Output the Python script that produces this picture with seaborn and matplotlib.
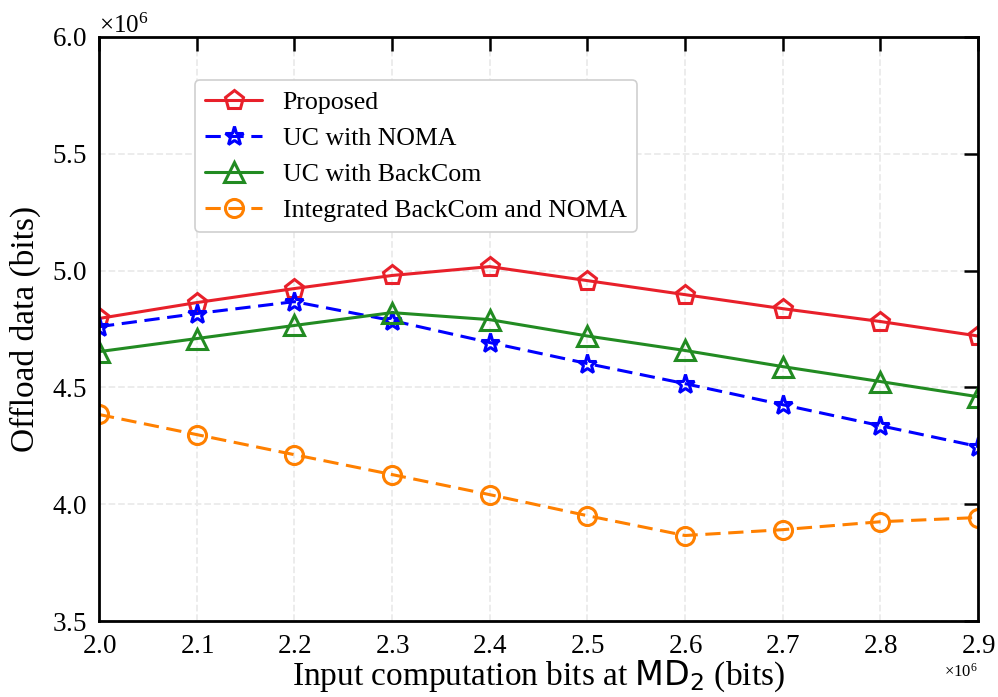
import numpy as np
import pandas as pd
import matplotlib
matplotlib.use("Agg")
import matplotlib.pyplot as plt
import seaborn as sns
from matplotlib.ticker import ScalarFormatter

x_vals = [2.0e6, 2.1e6, 2.2e6, 2.3e6, 2.4e6, 2.5e6, 2.6e6, 2.7e6, 2.8e6, 2.9e6]
proposed = [4.795e6, 4.863e6, 4.923e6, 4.979e6, 5.017e6, 4.957e6, 4.897e6, 4.837e6, 4.782e6, 4.720e6]
uc_noma = [4.760e6, 4.816e6, 4.867e6, 4.786e6, 4.692e6, 4.602e6, 4.516e6, 4.426e6, 4.336e6, 4.247e6]
uc_backcom = [4.653e6, 4.709e6, 4.765e6, 4.820e6, 4.790e6, 4.720e6, 4.658e6, 4.589e6, 4.525e6, 4.460e6]
integrated = [4.384e6, 4.298e6, 4.212e6, 4.127e6, 4.041e6, 3.951e6, 3.866e6, 3.891e6, 3.925e6, 3.943e6]
labels = ["Proposed", "UC with NOMA", "UC with BackCom", "Integrated BackCom and NOMA"]

sns.set_theme(style="white")
plt.rcParams['font.family'] = ['Liberation Serif', 'DejaVu Sans']
plt.rcParams['mathtext.fontset'] = 'custom'
plt.rcParams['mathtext.rm'] = 'Liberation Serif'
plt.rcParams['mathtext.it'] = 'Liberation Serif:italic'
plt.rcParams['mathtext.sf'] = 'DejaVu Sans'
for k in ('text.color', 'axes.labelcolor', 'xtick.color', 'ytick.color'):
    plt.rcParams[k] = 'black'

fig = plt.figure(figsize=(9.98, 6.97), dpi=100)
ax = fig.add_axes([0.0992, 0.109, 0.8808, 0.838])

styles = [
    dict(color='#e8202a', marker='p', linestyle='-', ms=14),
    dict(color='#0000ff', marker='*', linestyle='--', ms=14),
    dict(color='#228b22', marker='^', linestyle='-', ms=14),
    dict(color='#ff8000', marker='o', linestyle='--', ms=13),
]
series = [proposed, uc_noma, uc_backcom, integrated]
for ys, lab, st in zip(series, labels, styles):
    df = pd.DataFrame({'x': x_vals, 'y': ys})
    sns.lineplot(data=df, x='x', y='y', ax=ax, label=lab, color=st['color'],
                 marker=st['marker'], linewidth=2.2,
                 markersize=st['ms'], markerfacecolor='none', markeredgecolor=st['color'],
                 markeredgewidth=2.2, dashes=False if st['linestyle'] == '-' else (5, 2.5))

ax.set_xlim(2.0e6, 2.9e6)
ax.set_ylim(3.5e6, 6.0e6)
ax.set_xticks(x_vals)
ax.set_yticks([3.5e6, 4.0e6, 4.5e6, 5.0e6, 5.5e6, 6.0e6])
for axis in (ax.xaxis, ax.yaxis):
    fmt = ScalarFormatter(useMathText=True)
    fmt.set_powerlimits((0, 0))
    axis.set_major_formatter(fmt)
ax.xaxis.get_offset_text().set_fontsize(12)
ax.yaxis.get_offset_text().set_fontsize(18)

ax.grid(True, color='#ebebeb', linestyle='--', linewidth=1.3)
ax.tick_params(direction='in', top=True, right=True, length=10, width=1.8,
               labelsize=19.5, pad=9)
for sp in ax.spines.values():
    sp.set_linewidth(2)
    sp.set_color('black')

ax.set_xlabel(r"Input computation bits at $\mathsf{MD_2}$ (bits)", fontsize=24, labelpad=0)
ax.set_ylabel("Offload data (bits)", fontsize=24, labelpad=8)

leg = ax.legend(loc='upper left', bbox_to_anchor=(0.109, 0.926), borderaxespad=0,
                fontsize=18.6, frameon=True, framealpha=1, edgecolor='#d0d0d0', fancybox=True,
                handlelength=2.2, borderpad=0.4, labelspacing=0.5, handletextpad=0.8)
leg.get_frame().set_linewidth(1.2)

fig.savefig("out.png", dpi=100)
